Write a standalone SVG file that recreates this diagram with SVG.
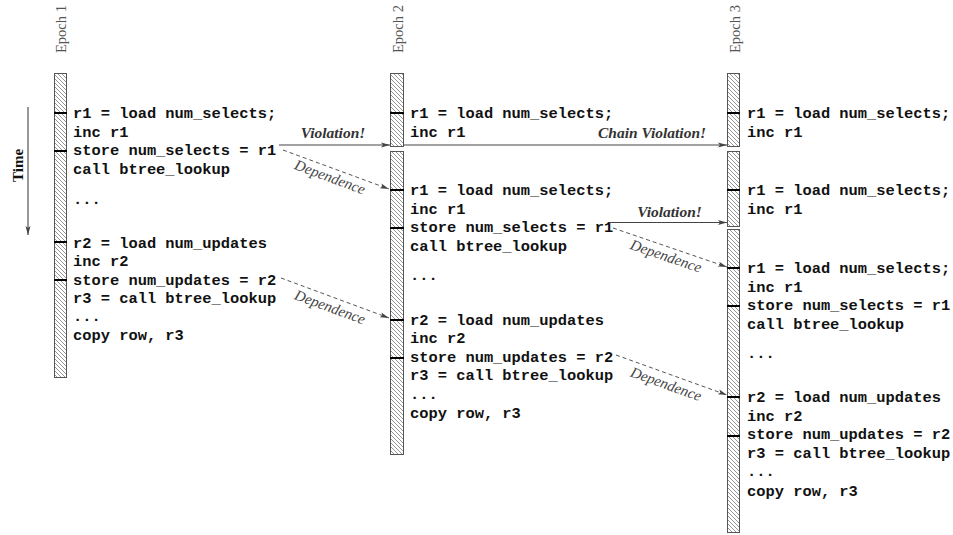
<svg xmlns="http://www.w3.org/2000/svg" width="953" height="535" viewBox="0 0 953 535">
<defs>
<pattern id="hatch" patternUnits="userSpaceOnUse" width="4" height="4"><rect width="4" height="4" fill="#fff"/><path d="M-1,-1 L5,5 M-1,3 L1,5 M3,-1 L5,1" stroke="#8a8a8a" stroke-width="0.9"/></pattern>
<marker id="ah" markerUnits="userSpaceOnUse" markerWidth="10" markerHeight="6" refX="9" refY="3" orient="auto"><path d="M0,0.5 L9,3 L0,5.5 L2,3 z" fill="#444"/></marker>
<style>
.code{font-family:"Liberation Mono",monospace;font-weight:bold;font-size:15.4px;fill:#111}
.bar{fill:url(#hatch);stroke:#555;stroke-width:1}
.tick{stroke:#000;stroke-width:2}
.ep{font-family:"Liberation Serif",serif;font-size:14.5px;fill:#555}
.viol{font-family:"Liberation Serif",serif;font-weight:bold;font-style:italic;font-size:15.5px;fill:#333;text-anchor:middle}
.dep{font-family:"Liberation Serif",serif;font-style:italic;font-size:15px;fill:#444;text-anchor:middle}
.solid{stroke:#444;stroke-width:1.2;fill:none;marker-end:url(#ah)}
.dash{stroke:#555;stroke-width:1;stroke-dasharray:4 3;fill:none;marker-end:url(#ah)}
.time{font-family:"Liberation Serif",serif;font-weight:bold;font-size:15px;fill:#111}
</style>
</defs>
<rect width="953" height="535" fill="#fff"/>

<g id="time">
<line x1="28" y1="107" x2="28" y2="235" stroke="#555" stroke-width="1.2" marker-end="url(#ah)"/>
<text class="time" transform="translate(23,182) rotate(-90)">Time</text>
</g>

<g id="epoch1">
<text class="ep" transform="translate(66,53) rotate(-90)">Epoch 1</text>
<rect class="bar" x="54.5" y="73.5" width="12" height="304"/>
<line class="tick" x1="54" y1="113" x2="67" y2="113"/>
<line class="tick" x1="54" y1="151" x2="67" y2="151"/>
<line class="tick" x1="54" y1="242" x2="67" y2="242"/>
<line class="tick" x1="54" y1="280" x2="67" y2="280"/>
<text class="code" x="73" y="118">r1 = load num_selects;</text>
<text class="code" x="73" y="136.5">inc r1</text>
<text class="code" x="73" y="155">store num_selects = r1</text>
<text class="code" x="73" y="173.5">call btree_lookup</text>
<text class="code" x="73" y="204">...</text>
<text class="code" x="73" y="247.5">r2 = load num_updates</text>
<text class="code" x="73" y="266">inc r2</text>
<text class="code" x="73" y="284.5">store num_updates = r2</text>
<text class="code" x="73" y="303">r3 = call btree_lookup</text>
<text class="code" x="73" y="321">...</text>
<text class="code" x="73" y="340">copy row, r3</text>
</g>

<g id="epoch2">
<text class="ep" transform="translate(403,53) rotate(-90)">Epoch 2</text>
<rect class="bar" x="390.5" y="73.5" width="13" height="73"/>
<rect class="bar" x="390.5" y="151.5" width="13" height="303"/>
<line class="tick" x1="390" y1="113" x2="404" y2="113"/>
<line class="tick" x1="390" y1="190" x2="404" y2="190"/>
<line class="tick" x1="390" y1="228" x2="404" y2="228"/>
<line class="tick" x1="390" y1="320" x2="404" y2="320"/>
<line class="tick" x1="390" y1="358" x2="404" y2="358"/>
<text class="code" x="410" y="118">r1 = load num_selects;</text>
<text class="code" x="410" y="136.5">inc r1</text>
<text class="code" x="410" y="195">r1 = load num_selects;</text>
<text class="code" x="410" y="213.5">inc r1</text>
<text class="code" x="410" y="232">store num_selects = r1</text>
<text class="code" x="410" y="250.5">call btree_lookup</text>
<text class="code" x="410" y="280">...</text>
<text class="code" x="410" y="324.5">r2 = load num_updates</text>
<text class="code" x="410" y="343">inc r2</text>
<text class="code" x="410" y="361.5">store num_updates = r2</text>
<text class="code" x="410" y="380">r3 = call btree_lookup</text>
<text class="code" x="410" y="398.5">...</text>
<text class="code" x="410" y="418">copy row, r3</text>
</g>

<g id="epoch3">
<text class="ep" transform="translate(740,53) rotate(-90)">Epoch 3</text>
<rect class="bar" x="727.5" y="73.5" width="12" height="73"/>
<rect class="bar" x="727.5" y="151.5" width="12" height="75"/>
<rect class="bar" x="727.5" y="229.5" width="12" height="303"/>
<line class="tick" x1="727" y1="113" x2="740" y2="113"/>
<line class="tick" x1="727" y1="190" x2="740" y2="190"/>
<line class="tick" x1="727" y1="268" x2="740" y2="268"/>
<line class="tick" x1="727" y1="306" x2="740" y2="306"/>
<line class="tick" x1="727" y1="397" x2="740" y2="397"/>
<line class="tick" x1="727" y1="436" x2="740" y2="436"/>
<text class="code" x="747" y="118">r1 = load num_selects;</text>
<text class="code" x="747" y="136.5">inc r1</text>
<text class="code" x="747" y="195">r1 = load num_selects;</text>
<text class="code" x="747" y="213.5">inc r1</text>
<text class="code" x="747" y="273">r1 = load num_selects;</text>
<text class="code" x="747" y="291.5">inc r1</text>
<text class="code" x="747" y="310">store num_selects = r1</text>
<text class="code" x="747" y="328.5">call btree_lookup</text>
<text class="code" x="747" y="358">...</text>
<text class="code" x="747" y="402">r2 = load num_updates</text>
<text class="code" x="747" y="420.5">inc r2</text>
<text class="code" x="747" y="439">store num_updates = r2</text>
<text class="code" x="747" y="457.5">r3 = call btree_lookup</text>
<text class="code" x="747" y="476">...</text>
<text class="code" x="747" y="496">copy row, r3</text>
</g>

<g id="connectors">
<line class="solid" x1="279" y1="145" x2="390" y2="145"/>
<text class="viol" x="333" y="138">Violation!</text>
<line class="solid" x1="404" y1="145" x2="727" y2="145"/>
<text class="viol" x="652" y="138">Chain Violation!</text>
<line class="solid" x1="609" y1="222.5" x2="727" y2="222.5"/>
<text class="viol" x="669.5" y="217">Violation!</text>
<line class="dash" x1="283" y1="150" x2="389" y2="189"/>
<text class="dep" transform="translate(330,177) rotate(20.3)" y="5">Dependence</text>
<line class="dash" x1="281" y1="278" x2="389" y2="318"/>
<text class="dep" transform="translate(330,307) rotate(20.1)" y="5">Dependence</text>
<line class="dash" x1="613" y1="228" x2="727" y2="267"/>
<text class="dep" transform="translate(666,256) rotate(18.9)" y="5">Dependence</text>
<line class="dash" x1="616" y1="355" x2="727" y2="395"/>
<text class="dep" transform="translate(666,384) rotate(19.8)" y="5">Dependence</text>
</g>
</svg>
